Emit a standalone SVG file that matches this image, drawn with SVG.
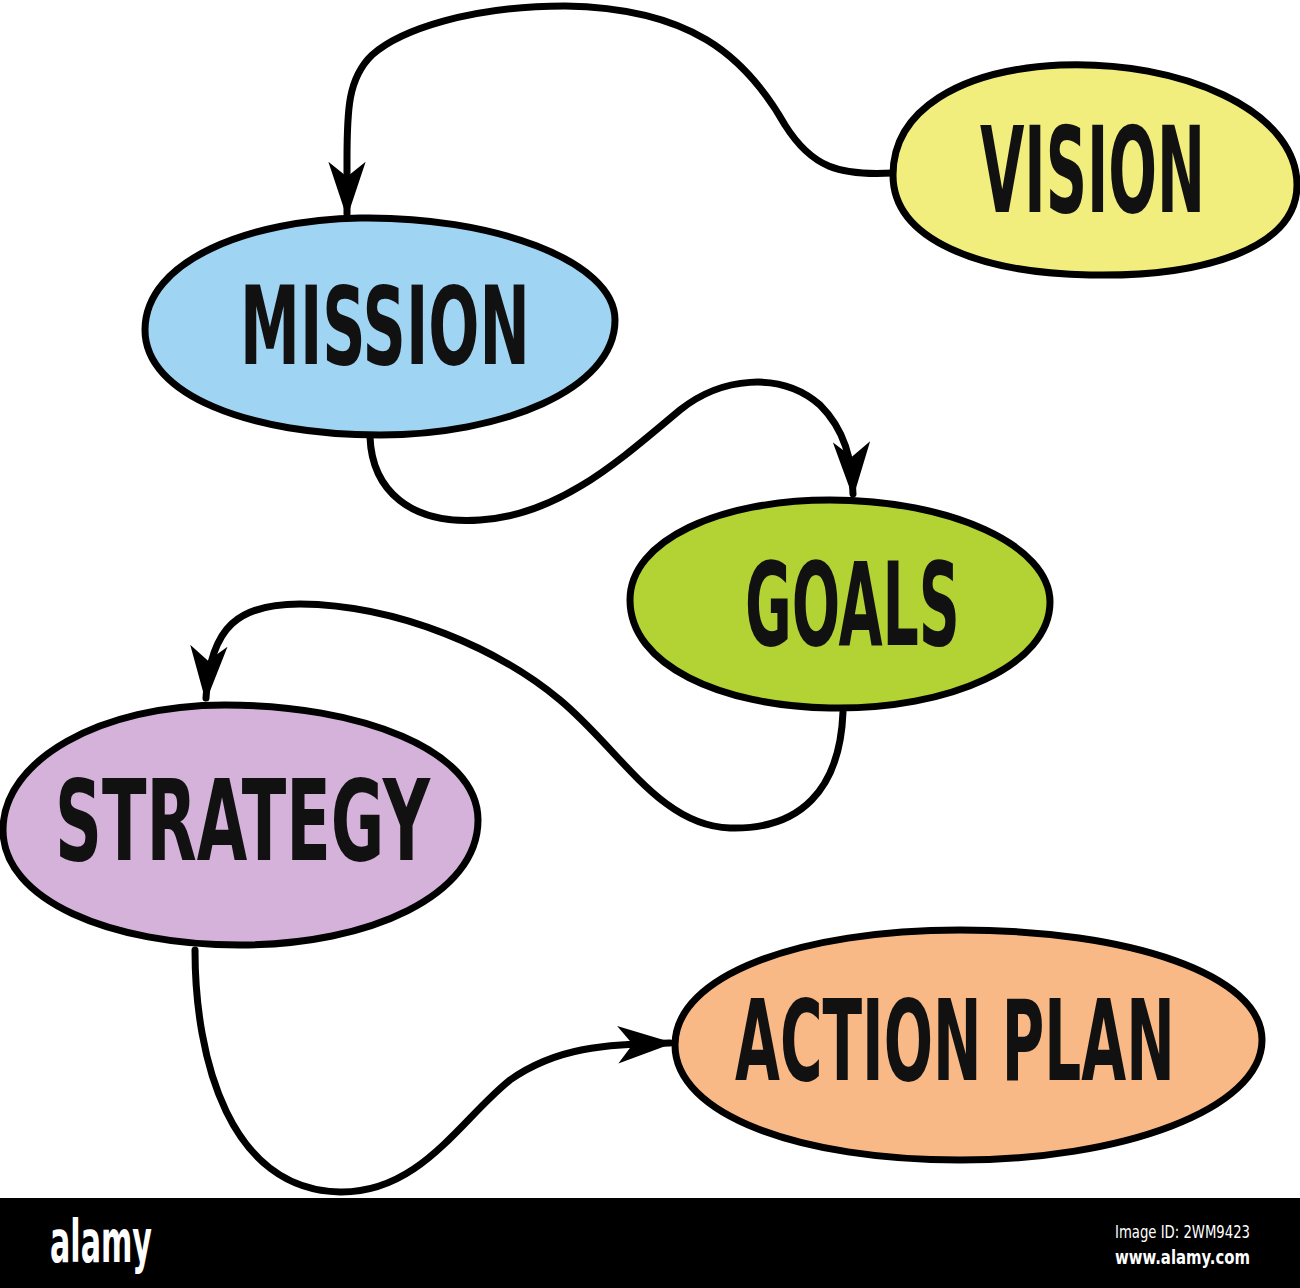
<svg xmlns="http://www.w3.org/2000/svg" width="1300" height="1288" viewBox="0 0 1300 1288">
<style>
.node{stroke:#000;stroke-width:7;stroke-linejoin:round}
.lbl{font-family:"DejaVu Sans Condensed","DejaVu Sans",sans-serif;font-weight:bold;fill:#111}
.conn{fill:none;stroke:#000;stroke-width:7;stroke-linecap:round}
</style>
<defs>
<marker id="arr" viewBox="0 0 30 20" refX="28" refY="10" markerWidth="8" markerHeight="5.4" markerUnits="strokeWidth" orient="auto">
<path d="M0,0 L30,10 L0,20 L8,10 Z" fill="#000"/>
</marker>
</defs>
<rect width="1300" height="1288" fill="#fff"/>
<g id="connectors">
<path class="conn" marker-end="url(#arr)" d="M893,173 C840,176 812,168 785,125 C745,55 690,8 565,6 C470,6 400,30 372,55 C348,78 347,110 347,160 L347,214"/>
<path class="conn" marker-end="url(#arr)" d="M370,437 C372,490 410,525 480,520 C560,515 620,460 680,410 C720,378 780,370 820,405 C845,430 852,460 853,494"/>
<path class="conn" marker-end="url(#arr)" d="M843,712 C840,790 800,830 730,828 C660,826 620,750 560,700 C500,650 400,605 300,604 C240,604 210,625 206,698"/>
<path class="conn" marker-end="url(#arr)" d="M195,950 C195,1060 230,1190 340,1192 C420,1193 460,1120 510,1080 C560,1045 610,1045 670,1043"/>
</g>
<g id="vision">
<path class="node" fill="#f2ee7e" d="M893,175 C893,110 960,70 1060,65 C1180,60 1297,110 1297,185 C1297,250 1200,277 1090,275 C980,273 893,240 893,175 Z"/>
<text class="lbl" transform="translate(980,212) scale(0.6,1)" font-size="120" textLength="375" lengthAdjust="spacingAndGlyphs">VISION</text>
</g>
<g id="mission">
<path class="node" fill="#a0d4f3" d="M145,330 C145,260 250,220 360,218 C490,216 615,260 615,320 C615,390 500,435 380,435 C250,435 145,395 145,330 Z"/>
<text class="lbl" transform="translate(240,364) scale(0.6,1)" font-size="108" textLength="483" lengthAdjust="spacingAndGlyphs">MISSION</text>
</g>
<g id="goals">
<path class="node" fill="#b3d233" d="M630,600 C630,540 720,500 830,500 C950,500 1050,545 1050,602 C1050,665 950,710 830,708 C720,706 630,665 630,600 Z"/>
<text class="lbl" transform="translate(745,645) scale(0.6,1)" font-size="116" textLength="358" lengthAdjust="spacingAndGlyphs">GOALS</text>
</g>
<g id="strategy">
<path class="node" fill="#d4b2d9" d="M3,830 C3,760 100,705 225,705 C360,705 478,750 478,820 C478,895 370,945 240,945 C110,945 3,900 3,830 Z"/>
<text class="lbl" transform="translate(55,860) scale(0.6,1)" font-size="112" textLength="625" lengthAdjust="spacingAndGlyphs">STRATEGY</text>
</g>
<g id="action-plan">
<path class="node" fill="#f9b987" d="M675,1045 C675,975 800,930 960,930 C1130,930 1262,975 1262,1040 C1262,1110 1120,1160 960,1160 C800,1160 675,1115 675,1045 Z"/>
<text class="lbl" transform="translate(735,1080) scale(0.6,1)" font-size="112" textLength="733" lengthAdjust="spacingAndGlyphs">ACTION PLAN</text>
</g>
<g id="footer">
<rect x="0" y="1198" width="1300" height="90" fill="#000"/>
<text x="50" y="1262" font-family="'DejaVu Sans Condensed','DejaVu Sans',sans-serif" font-weight="bold" font-size="58" fill="#fff" textLength="102" lengthAdjust="spacingAndGlyphs">alamy</text>
<text x="1115" y="1238" font-family="'DejaVu Sans Condensed','DejaVu Sans',sans-serif" font-size="17" fill="#fff" textLength="135" lengthAdjust="spacingAndGlyphs">Image ID: 2WM9423</text>
<text x="1115" y="1264" font-family="'DejaVu Sans Condensed','DejaVu Sans',sans-serif" font-weight="bold" font-size="19" fill="#fff" textLength="135" lengthAdjust="spacingAndGlyphs">www.alamy.com</text>
</g>
</svg>
